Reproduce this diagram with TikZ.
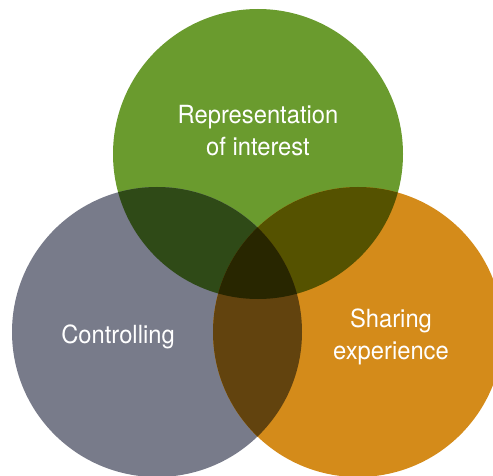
\documentclass[tikz,border=0pt]{standalone}
\usepackage{fontspec}
\setmainfont{TeX Gyre Heros}[FakeStretch=0.95]
\usepackage{tikz}
\usetikzlibrary{calc}
\definecolor{interestgreen}{HTML}{6A9B2E}
\definecolor{controlgray}{HTML}{787B8A}
\definecolor{sharingorange}{HTML}{D48B1A}
\definecolor{greengray}{HTML}{2F4A17}
\definecolor{greenorange}{HTML}{555200}
\definecolor{grayorange}{HTML}{62430E}
\definecolor{allthree}{HTML}{282600}
\tikzstyle{ring} = [circle, minimum size=290pt, inner sep=0pt]
\tikzstyle{label} = [text=white, align=center, font=\fontsize{25}{32}\selectfont]

\begin{document}
\begin{tikzpicture}[x=1pt, y=-1pt]
            \useasboundingbox (0,0) rectangle (493,476);
            \clip (0,0) rectangle (493,476);
            \node (interest) [ring, fill=interestgreen] at (258,154) {};
            \node (control) [ring, fill=controlgray] at (157,332) {};
            \node (sharing) [ring, fill=sharingorange] at (358,332) {};
            % overlaps
            \begin{scope}
                \clip (258,154) circle (145);
                \fill [greengray] (157,332) circle (145);
                \fill [greenorange] (358,332) circle (145);
            \end{scope}
            \begin{scope}
                \clip (157,332) circle (145);
                \fill [grayorange] (358,332) circle (145);
                \clip (358,332) circle (145);
                \fill [allthree] (258,154) circle (145);
            \end{scope}
            \node (interesttext) [label, anchor=base] at (258,156) {Representation\\of interest};
            \node (controltext) [label, anchor=base] at (118,343) {Controlling};
            \node (sharingtext) [label, anchor=base] at (391,359) {Sharing\\experience};
        \end{tikzpicture}
\end{document}
